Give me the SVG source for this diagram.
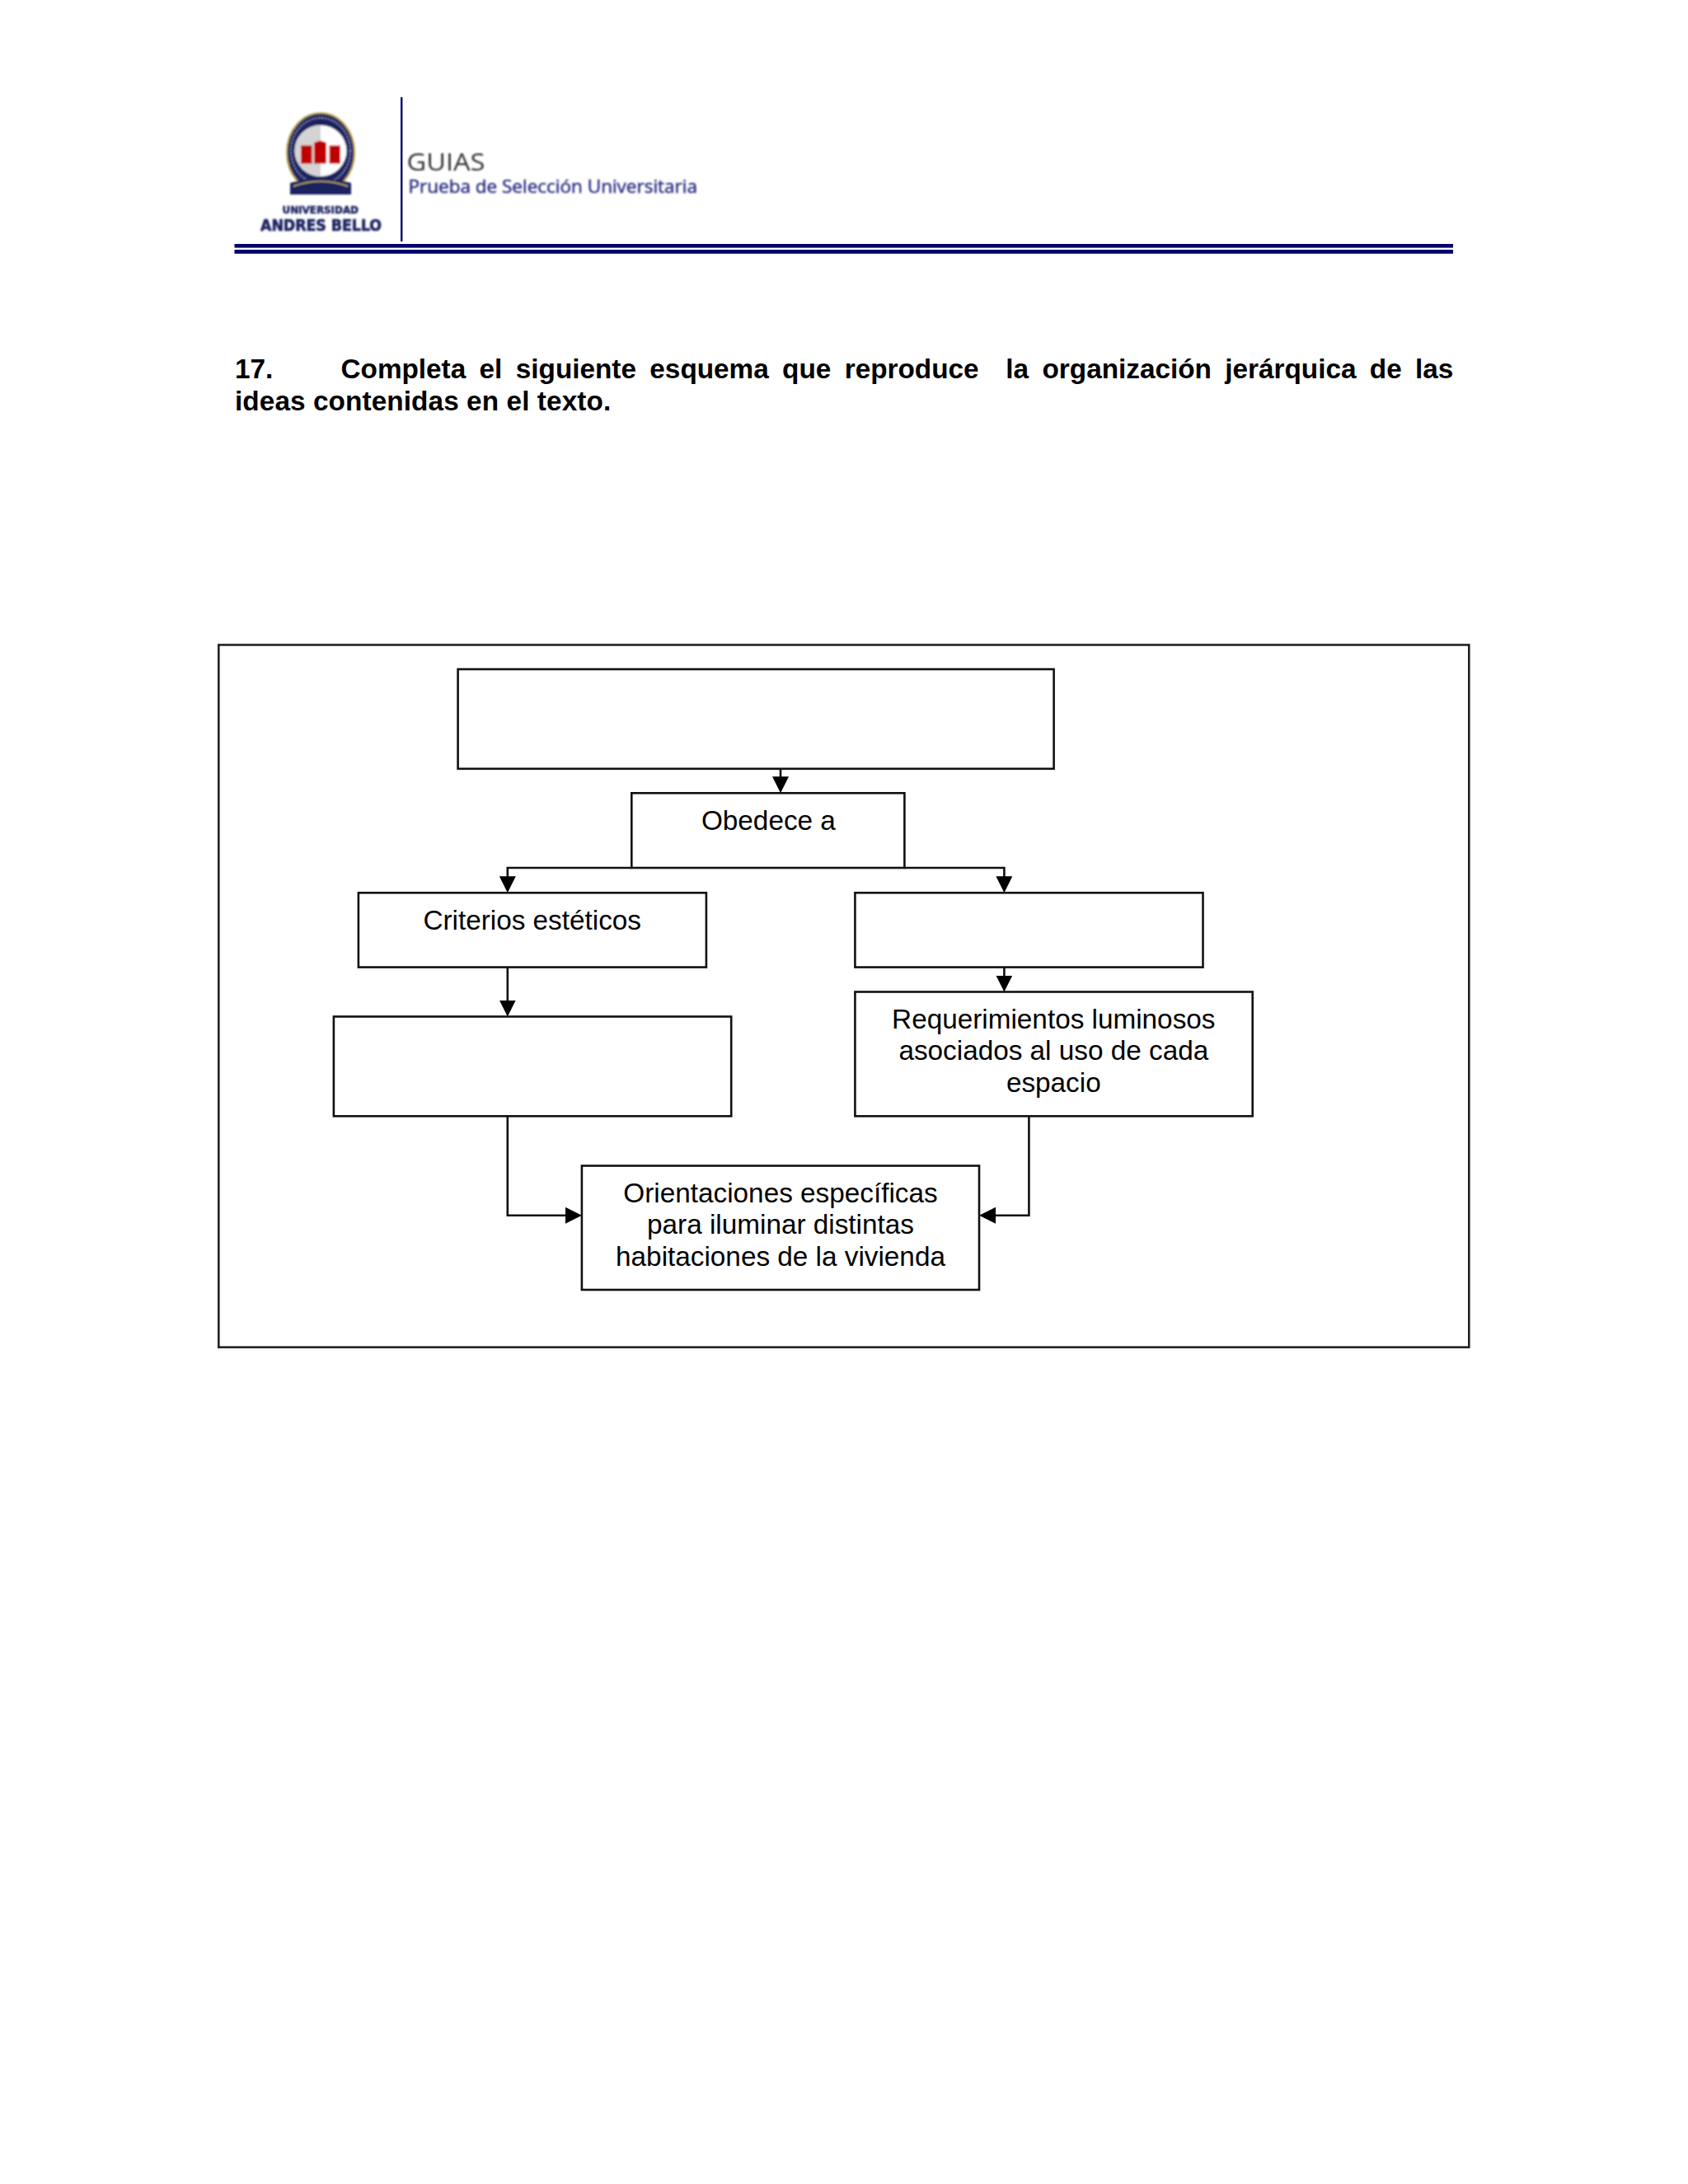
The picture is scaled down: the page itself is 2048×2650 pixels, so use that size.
<svg xmlns="http://www.w3.org/2000/svg" width="2048" height="2650" viewBox="0 0 2048 2650">
<style>
.box{fill:#fff;stroke:#111;stroke-width:2.6}
.frame{fill:#fff;stroke:#222;stroke-width:2.6}
.lbl{font-family:"Liberation Sans",Arial,sans-serif;font-size:33.3px;fill:#000;text-anchor:middle}
.hd{font-family:"Liberation Sans",Arial,sans-serif;font-size:33.3px;font-weight:bold;fill:#000;white-space:pre}
.conn{fill:none;stroke:#111;stroke-width:2.6}
.navy{fill:#00006e}
</style>
<defs>
<marker id="arrow" markerUnits="userSpaceOnUse" markerWidth="22" markerHeight="22" refX="10" refY="10" orient="auto">
<path d="M0 0L20 10L0 20Z" fill="#000"/>
</marker>
<filter id="soft" x="-5%" y="-5%" width="110%" height="110%"><feGaussianBlur stdDeviation="0.8"/></filter>
</defs>
<rect width="2048" height="2650" fill="#fff"/>

<g id="header">
<rect class="navy" x="486" y="118" width="2.4" height="175"/>
<rect class="navy" x="284.500" y="296" width="1478.500" height="4.6"/>
<rect class="navy" x="284.500" y="303" width="1478.500" height="4.8"/>
<g id="logo" filter="url(#soft)">
<ellipse cx="389" cy="185" rx="41" ry="47.7" fill="#1c2360" stroke="#b9a24a" stroke-width="2"/>
<ellipse cx="389" cy="183" rx="36" ry="40" fill="none" stroke="#8f95bd" stroke-width="1.8" stroke-dasharray="2 2"/>
<ellipse cx="389" cy="183" rx="31.500" ry="31" fill="#fff"/>
<path d="M389 152A31.500 31 0 0 0 389 214Z" fill="#d4d4d4"/>
<rect x="365" y="176.500" width="13.500" height="22" fill="#c00000"/>
<path d="M381 198.500V173L388.500 170.500L396 173V198.500Z" fill="#c00000"/>
<rect x="399.500" y="176.500" width="13.500" height="22" fill="#c00000"/>
<path d="M352 222Q389 212 426 222V236H352Z" fill="#1c2360"/>
<path d="M356 226Q389 214 422 226" fill="none" stroke="#c9b65a" stroke-width="1.6"/>
<path d="M352 236H426V222L418 232Q389 240 360 232L352 222Z" fill="#1c2360"/>
<text x="342.500" y="259" font-family="'DejaVu Sans',sans-serif" font-size="12.500" font-weight="bold" fill="#1c2360" stroke="#1c2360" stroke-width="0.5" textLength="92.500" lengthAdjust="spacingAndGlyphs">UNIVERSIDAD</text>
<text x="316" y="279.500" font-family="'DejaVu Sans',sans-serif" font-size="19" font-weight="bold" fill="#1c2360" stroke="#1c2360" stroke-width="0.7" textLength="147" lengthAdjust="spacingAndGlyphs">ANDRES BELLO</text>
</g>
<g filter="url(#soft)">
<text x="493.500" y="207" font-family="'Open Sans',sans-serif" font-size="29" fill="#333" textLength="95" lengthAdjust="spacingAndGlyphs">GUIAS</text>
<text x="495.500" y="233.500" font-family="'Open Sans',sans-serif" font-size="21" fill="#23297f" stroke="#23297f" stroke-width="0.4" textLength="350.500" lengthAdjust="spacingAndGlyphs">Prueba de Selección Universitaria</text>
</g>
</g>

<g id="question">
<text class="hd" x="285" y="459.300">17.</text>
<text class="hd" x="413.500" y="459.300" word-spacing="7.150">Completa el siguiente esquema que reproduce  la organización jerárquica de las</text>
<text class="hd" x="285" y="497.700" letter-spacing="0.100">ideas contenidas en el texto.</text>
</g>

<g id="frame"><rect class="frame" x="265.300" y="782.500" width="1517" height="852.200"/></g>

<g id="node-top"><rect class="box" x="555.600" y="812" width="723" height="120.800"/></g>
<g id="node-obedece"><rect class="box" x="766.300" y="962.300" width="331.100" height="90.700"/><text class="lbl" x="932.400" y="1007">Obedece a</text></g>
<g id="node-criterios"><rect class="box" x="434.900" y="1083.300" width="422" height="90.300"/><text class="lbl" x="645.700" y="1127.700">Criterios estéticos</text></g>
<g id="node-right"><rect class="box" x="1037.400" y="1083.300" width="422.100" height="90.300"/></g>
<g id="node-left-blank"><rect class="box" x="404.900" y="1233.500" width="482.300" height="120.800"/></g>
<g id="node-requerimientos"><rect class="box" x="1037.400" y="1203.500" width="482.300" height="150.800"/>
<text class="lbl" x="1278.300" y="1248.300">Requerimientos luminosos</text>
<text class="lbl" x="1278.300" y="1286.300">asociados al uso de cada</text>
<text class="lbl" x="1278.300" y="1324.800">espacio</text></g>
<g id="node-orientaciones"><rect class="box" x="705.900" y="1414.500" width="482.100" height="150.500"/>
<text class="lbl" x="947" y="1459">Orientaciones específicas</text>
<text class="lbl" x="947" y="1497">para iluminar distintas</text>
<text class="lbl" x="947" y="1535.500">habitaciones de la vivienda</text></g>

<g id="connectors">
<path class="conn" marker-end="url(#arrow)" d="M947 932.800V952.300"/>
<path class="conn" marker-end="url(#arrow)" d="M766.300 1053H615.800V1073.300"/>
<path class="conn" marker-end="url(#arrow)" d="M1097.400 1053H1218.400V1073.300"/>
<path class="conn" marker-end="url(#arrow)" d="M615.800 1173.600V1223.500"/>
<path class="conn" marker-end="url(#arrow)" d="M1218.400 1173.600V1193.500"/>
<path class="conn" marker-end="url(#arrow)" d="M615.800 1354.300V1474.700H695.900"/>
<path class="conn" marker-end="url(#arrow)" d="M1248.400 1354.300V1474.700H1198"/>
</g>
</svg>
